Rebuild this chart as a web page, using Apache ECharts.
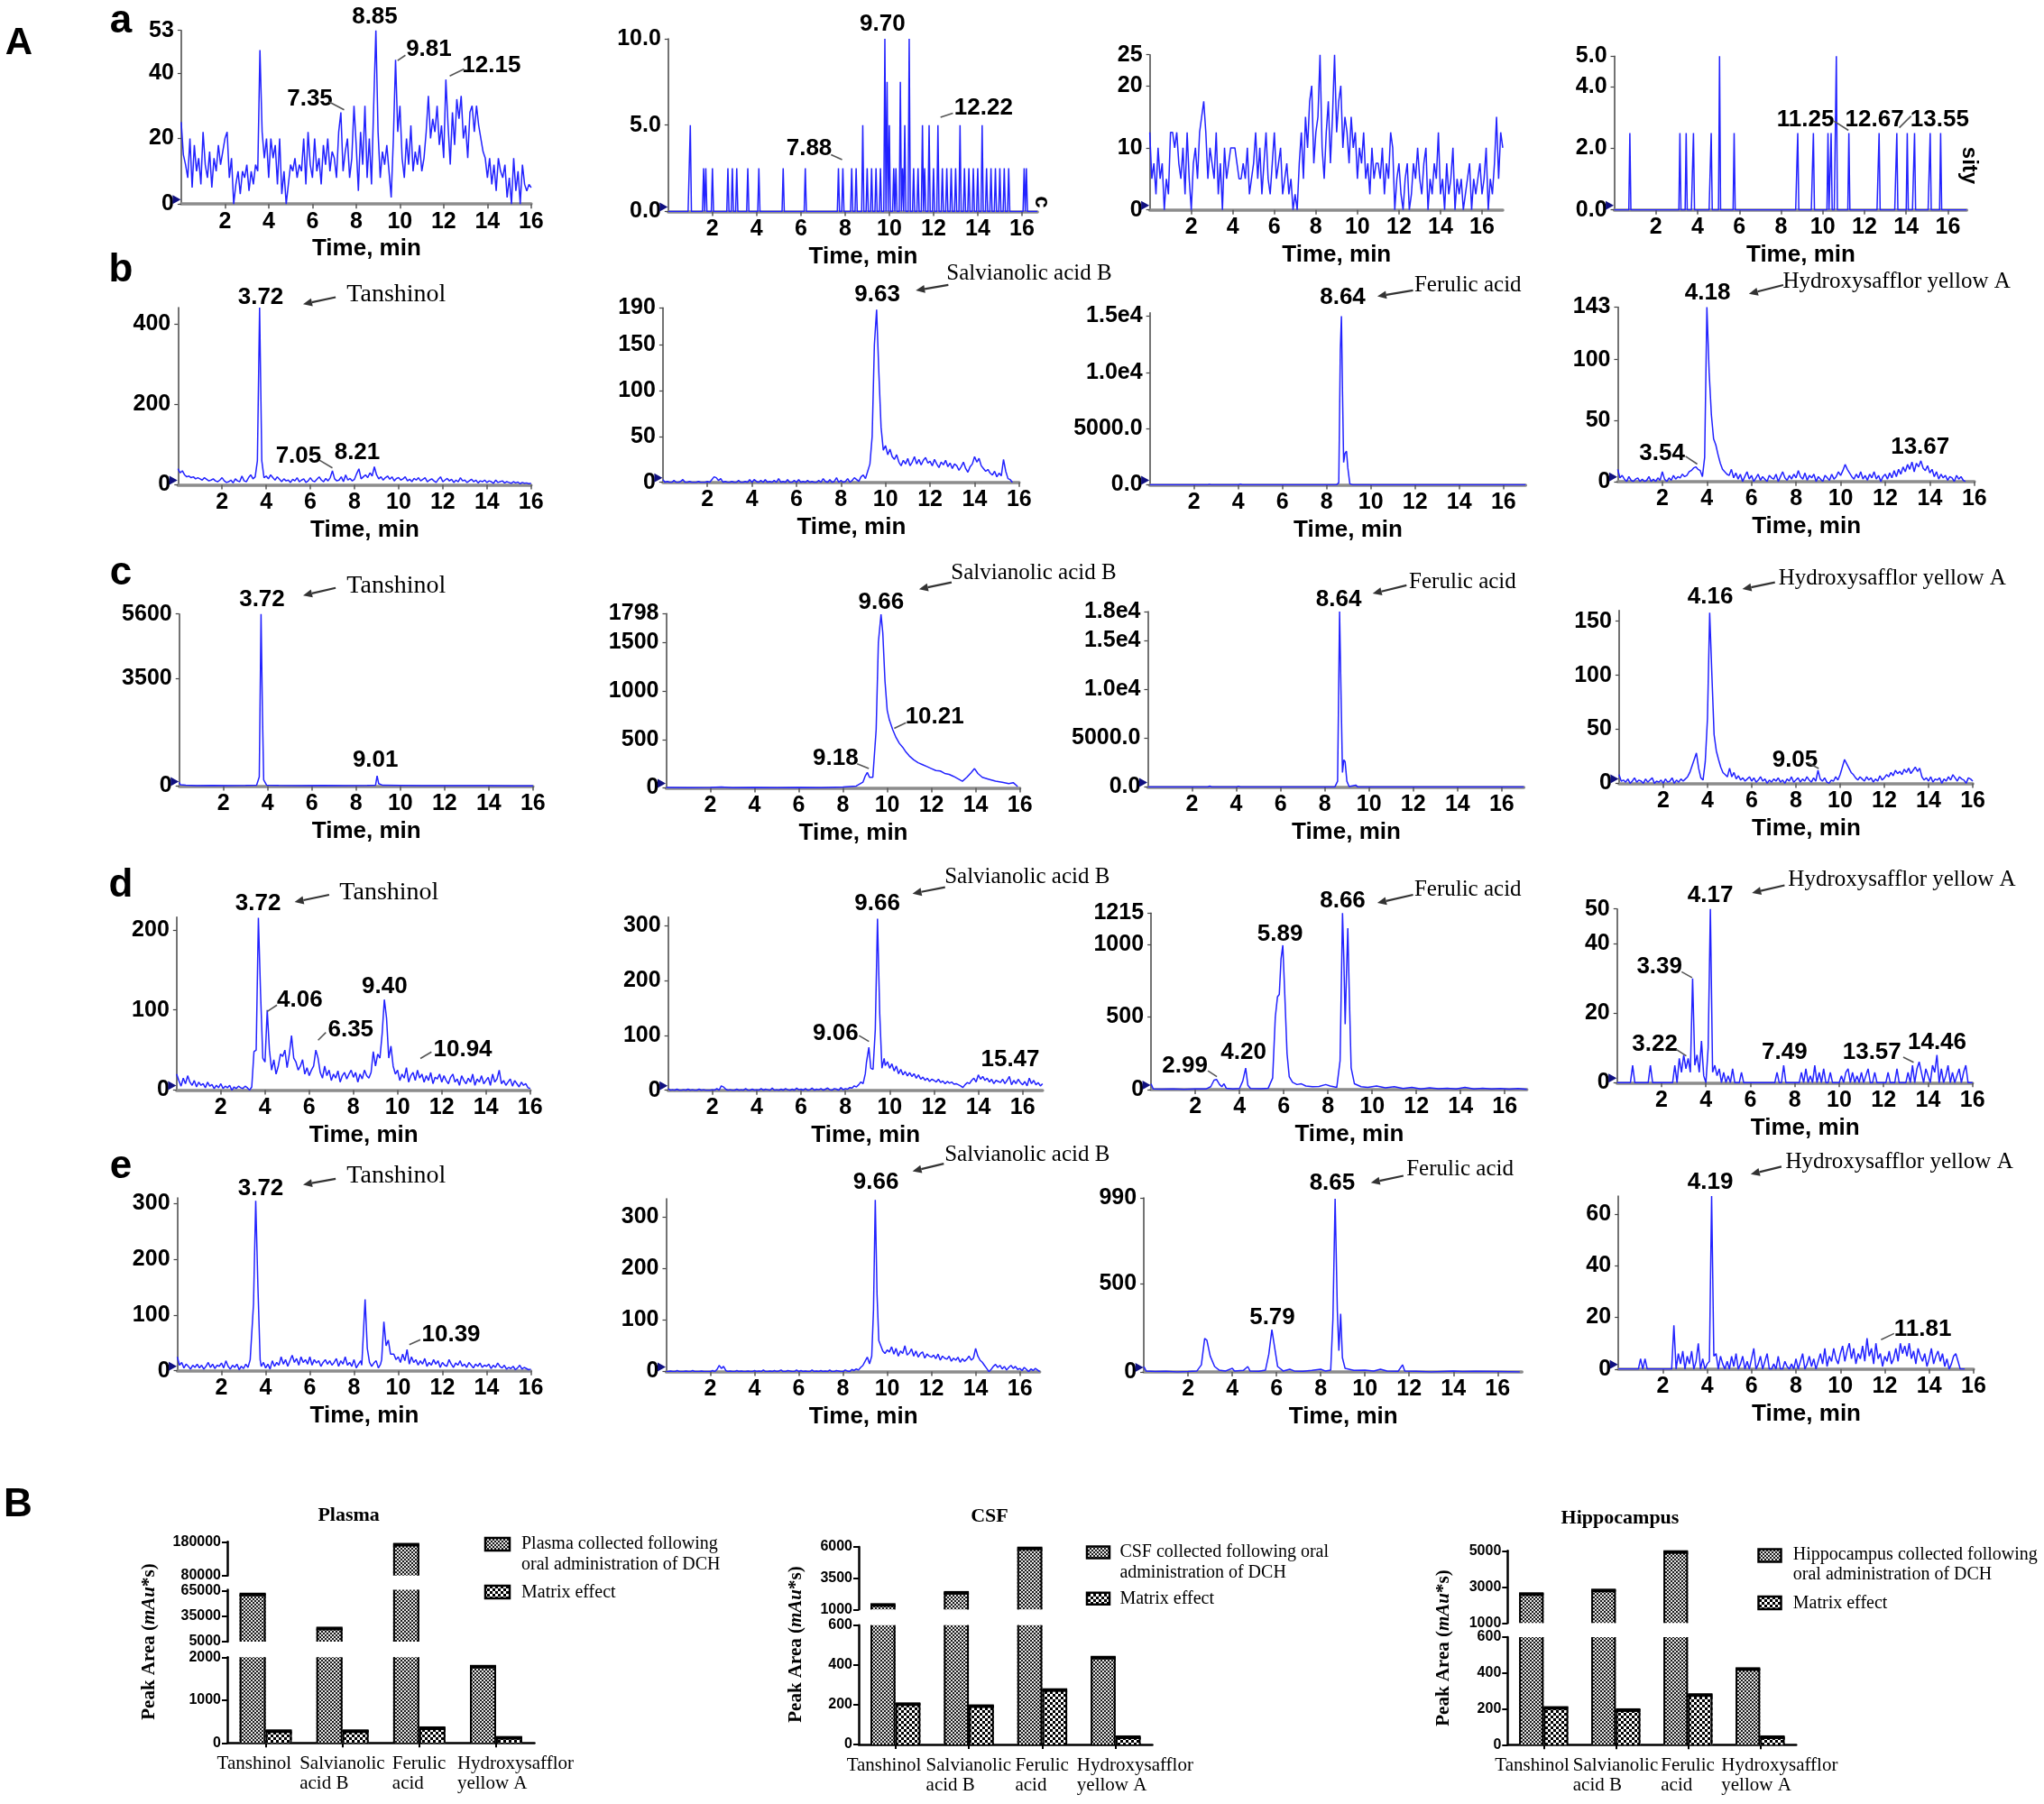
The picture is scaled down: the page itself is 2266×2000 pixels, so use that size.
<!DOCTYPE html>
<html>
<head>
<meta charset="utf-8">
<script src="https://cdn.jsdelivr.net/npm/echarts@6/dist/echarts.min.js"></script>
<style>html,body{margin:0;padding:0;background:#fff}#chart{width:2266px;height:2000px}</style>
</head>
<body>
<div id="chart"></div>
<script>
// ===================== DATA =====================
const timeTicks = [2, 4, 6, 8, 10, 12, 14, 16];

// Row a (blank) -- regular sampling
const trace_a1 = [ // step 0.1 min
 25,15,12,8,20,5,18,10,14,6, 22,12,8,16,5,14,10,18,12,16, 20,22,8,14,0,6,10,3,10,8,
 12,4,10,6,12,10,47,22,14,20, 8,20,14,18,6,20,3,10,0,6, 12,10,14,8,12,10,20,6,22,12,
 8,20,10,14,6,18,12,20,10,16, 14,8,22,28,10,16,20,8,14,30, 18,4,22,12,30,8,20,6,30,53,
 22,8,16,12,18,10,2,20,44,22, 30,14,8,20,12,24,10,16,12,18, 10,14,22,33,20,26,22,30,18,24,
 14,38,24,12,28,18,32,26,33,20, 24,14,28,30,22,30,24,20,16,14, 8,14,6,12,4,14,10,8,12,2,
 8,0,14,4,10,0,12,6,4,6, 5];
const trace_a2 = [ // step 0.05 min
 0,0,0,0,0,0,0,0,0,0,0,0,0,0,0,0,0,0,0,0,
 5,0,0,0,0,0,0,0,0,0,0,0,2.5,0,2.5,0,0,0,0,0,
 2.5,0,0,0,0,0,0,0,0,0,0,0,0,0,2.5,0,0,0,2.5,0,
 0,0,2.5,0,0,0,0,0,0,0,0,0,2.5,0,0,0,0,0,0,0,
 0,0,2.5,0,0,0,0,0,0,0,0,0,0,0,0,0,0,0,0,0,
 0,0,0,0,2.5,0,0,0,0,0,0,0,0,0,0,0,0,0,0,0,
 0,0,0,0,2.5,0,0,0,0,0,0,0,0,0,0,0,0,0,0,0,
 0,0,0,0,0,0,0,0,0,0,0,0,0,0,2.5,0,0,0,2.5,0,
 0,0,0,0,0,0,2.5,0,0,0,2.5,0,0,0,0,0,5,0,0,0,
 2.5,0,0,0,2.5,0,0,0,2.5,0,0,0,2.5,0,0,0,10,0,7.5,0,
 5,0,0,0,2.5,0,2.5,0,0,0,7.5,0,2.5,0,5,0,0,0,10,0,
 0,0,2.5,0,0,0,2.5,0,0,0,5,0,2.5,0,0,0,5,0,0,0,
 2.5,0,0,0,5,0,0,0,2.5,0,0,0,2.5,0,0,0,2.5,0,0,0,
 2.5,0,0,0,5,0,0,0,2.5,0,0,0,2.5,0,0,0,2.5,0,0,0,
 2.5,0,0,0,5,0,0,0,2.5,0,0,0,2.5,0,0,0,2.5,0,0,0,
 2.5,0,0,0,2.5,0,0,0,2.5,0,0,0,0,0,0,0,0,0,0,0,
 0,0,2.5,0,2.5,0,0,0,0,0,0,0,0,0,0];
const trace_a3 = [ // step 0.1 min
 12.5,5,7.5,2.5,10,5,7.5,0,5,2.5, 12.5,12.5,10,12.5,7.5,5,10,2.5,12.5,5,
 0,7.5,10,5,12.5,15,17.5,12.5,5,10, 7.5,5,12.5,2.5,7.5,0,10,5,7.5,10,
 10,10,7.5,5,5,7.5,5,10,2.5,5, 7.5,12.5,5,10,2.5,7.5,12.5,5,2.5,7.5,
 12.5,5,7.5,10,2.5,5,7.5,2.5,5,0, 2.5,0,7.5,12.5,5,15,10,17.5,20,7.5,
 12.5,15,25,10,5,12.5,17.5,7.5,15,25, 12.5,17.5,20,10,15,12.5,7.5,15,10,12.5,
 5,10,7.5,12.5,5,7.5,2.5,10,5,7.5, 7.5,5,10,2.5,7.5,5,12.5,10,0,5,
 7.5,2.5,0,5,7.5,0,2.5,7.5,5,10, 5,2.5,7.5,10,0,5,2.5,7.5,5,12.5,
 2.5,5,0,7.5,2.5,5,10,0,5,2.5, 5,0,2.5,5,7.5,0,5,2.5,5,7.5,
 2.5,5,10,0,5,2.5,7.5,15,5,12.5,10];
const trace_a4 = [ // step 0.05 min
 0,0,0,0,0,0,0,0,0,0,0,0,0,0,0,2.5,0,0,0,0,
 0,0,0,0,0,0,0,0,0,0,0,0,0,0,0,0,0,0,0,0,
 0,0,0,0,0,0,0,0,0,0,0,0,0,0,0,0,0,0,0,0,
 0,0,0,2.5,0,0,0,0,0,2.5,0,0,0,0,0,0,2.5,0,0,0,
 0,0,0,0,0,0,0,0,0,0,0,0,0,2.5,0,0,0,0,0,0,
 0,5,0,0,0,0,0,0,0,0,0,0,0,0,0,2.5,0,0,0,0,
 0,0,0,0,0,0,0,0,0,0,0,0,0,0,0,0,0,0,0,0,
 0,0,0,0,0,0,0,0,0,0,0,0,0,0,0,0,0,0,0,0,
 0,0,0,0,0,0,0,0,0,0,0,0,0,0,0,0,2.5,0,0,0,
 0,0,0,0,0,0,0,0,0,0,0,2.5,0,0,0,0,0,0,0,0,
 0,0,0,0,0,2.5,0,0,2.5,0,0,0,0,5,0,0,0,0,0,0,
 0,0,0,0,0,2.5,0,0,0,0,0,0,0,0,0,0,0,0,0,0,
 0,0,0,0,0,0,0,0,0,0,0,0,0,0,2.5,0,0,0,0,0,
 0,0,0,0,0,0,0,0,0,0,0,2.5,0,0,0,0,0,0,0,0,
 0,2.5,0,0,0,0,0,0,2.5,0,0,0,0,0,0,0,0,0,0,0,
 0,0,0,2.5,0,0,0,0,0,0,0,0,0,2.5,0,0,0,0,0,0,
 0,0,0,0,0,0,0,0,0,0,0,0,0,0,0,0,0,0,0];

// Row b
const trace_b1 = [ // step 0.1
 40,30,35,25,20,22,18,20,15,18, 15,12,18,14,10,12,15,10,8,12, 18,10,6,8,12,5,15,10,8,22,
 10,8,18,25,15,20,60,440,60,18, 22,15,25,18,12,20,14,8,15,10, 12,6,14,10,18,8,12,15,6,10,
 18,10,8,14,20,12,8,16,10,18, 35,15,10,12,20,8,25,12,16,10, 14,28,40,15,20,25,18,30,22,45,
 25,15,20,12,18,22,14,20,10,16, 18,12,15,20,10,14,8,16,12,18, 10,14,18,8,12,15,10,6,14,20,
 8,12,16,10,14,6,12,8,18,10, 12,6,10,14,8,12,5,10,8,12, 6,10,8,4,12,6,8,10,5,8,
 6,4,8,5,7,3,6,4,5,3, 4];
const trace_b2 = [ // step 0.1
 3,0,1,0,0,2,0,0,1,3, 0,0,1,0,0,0,1,0,0,0, 1,0,3,6,5,2,4,0,1,0, 0,1,0,0,2,0,0,1,0,3,
 0,3,1,0,2,0,3,0,1,0, 2,0,4,0,1,0,3,0,0,2, 0,3,0,1,0,2,0,1,0,0, 2,0,4,1,0,3,0,1,5,0,
 2,0,1,4,0,2,5,3,1,6, 8,4,12,20,50,150,188,120,60,35, 40,30,36,28,25,30,22,18,24,20,
 26,18,22,28,20,25,19,24,27,21, 23,18,25,20,16,22,19,24,17,21, 15,20,18,13,17,22,15,11,17,20,
 28,22,26,18,15,12,14,10,8,12, 6,10,7,25,12,4,3,0];
const trace_b3 = [ // [min, intensity]
 [0,0],[2.6,0],[2.7,60],[2.8,0],[4.0,0],[4.1,80],[4.2,0],[8.45,0],[8.55,200],[8.62,12000],[8.67,15000],
 [8.72,8000],[8.77,2000],[8.83,2800],[8.9,3000],[8.96,1500],[9.05,100],[9.2,0],[17,0]];
const trace_b4 = [ // step 0.1
 10,3,5,2,0,4,1,0,2,3, 0,2,0,1,4,0,2,0,3,1, 8,2,0,3,1,5,2,4,3,6, 4,5,8,9,11,12,10,9,4,20,
 143,90,55,35,30,22,15,10,8,6, 5,10,3,7,2,6,0,4,8,2, 5,0,3,6,1,4,2,0,5,3, 2,6,0,4,8,3,1,5,2,6,
 3,9,4,2,7,1,5,3,6,0, 4,2,0,5,3,1,6,2,4,8, 5,9,14,10,7,4,2,6,3,8, 2,5,1,6,3,8,2,5,0,4,
 6,2,7,3,9,4,10,6,12,8, 14,10,16,8,15,12,17,11,9,13, 7,10,4,8,2,6,3,5,1,4, 3,0,5,2,4,1,0];

// Row c
const trace_c1 = [
 [0,120],[0.05,40],[0.3,25],[0.8,15],[1.5,20],[2.2,12],[3.0,18],[3.5,25],[3.62,300],[3.7,5600],[3.76,2500],
 [3.82,200],[3.95,30],[4.5,20],[5.5,15],[6.5,22],[7.5,14],[8.5,18],[8.88,30],[8.95,330],[9.02,80],[9.2,25],
 [10,18],[11,12],[12,15],[13,10],[14,12],[15,8],[16,5]];
const trace_c2 = [
 [0,5],[1,3],[2,5],[2.5,10],[3,4],[4,6],[5,4],[6,5],[7,4],[8,10],[8.6,20],[8.9,60],[9.0,120],[9.1,160],[9.2,110],
 [9.35,110],[9.5,600],[9.6,1500],[9.72,1790],[9.8,1600],[9.9,1100],[10.0,800],[10.1,700],[10.25,600],[10.4,520],
 [10.55,460],[10.7,420],[10.85,370],[11.0,330],[11.2,290],[11.4,260],[11.6,240],[11.8,220],[12.0,200],[12.2,180],
 [12.4,175],[12.6,150],[12.8,140],[13.0,120],[13.2,95],[13.4,70],[13.6,110],[13.8,160],[13.95,200],[14.1,150],
 [14.3,110],[14.6,90],[14.9,70],[15.2,60],[15.5,45],[15.7,55],[15.9,15]];
const trace_c3 = [
 [0,0],[2.7,0],[2.8,100],[2.9,0],[4.0,0],[4.1,90],[4.2,0],[8.45,0],[8.58,600],[8.67,18000],[8.74,9000],
 [8.8,1500],[8.86,2800],[8.92,2600],[9.0,600],[9.1,50],[9.4,200],[9.5,0],[17,0]];
const trace_c4 = [ // step 0.1
 8,2,3,1,4,0,2,5,1,3, 2,0,4,1,3,5,0,2,1,3, 0,4,1,2,5,0,3,1,4,2, 4,6,10,16,22,28,14,5,3,20,
 60,158,100,45,30,22,15,10,8,6, 14,6,10,4,7,3,5,2,4,6, 2,5,1,3,6,2,4,0,3,1, 4,2,5,1,3,0,4,2,6,1,
 3,5,1,4,2,6,3,1,5,2, 12,4,2,5,1,0,3,2,6,3, 8,15,22,18,14,10,8,5,3,6, 4,2,6,3,5,1,4,2,7,3,
 5,8,6,10,7,12,9,11,8,13, 10,14,9,12,15,11,14,6,3,5, 2,6,1,4,3,5,0,4,2,6, 3,8,5,2,6,4,3,0,5,4, 2];

// Row d
const trace_d1 = [ // step 0.1
 20,12,5,15,8,18,10,6,12,4, 10,6,8,3,10,5,7,2,6,3, 8,2,5,3,6,0,4,2,5,3, 2,5,3,0,4,48,50,215,120,40,
 35,100,50,25,38,20,30,45,42,50, 28,45,68,40,35,25,30,38,20,28, 18,25,30,50,40,22,15,30,18,25,
 12,20,15,24,10,18,22,14,20,25, 16,22,10,20,14,25,18,15,22,48, 30,45,40,70,113,90,40,55,30,20,
 25,12,20,15,28,10,18,22,12,25, 15,20,10,18,12,22,8,16,14,20, 10,18,12,8,16,20,10,14,6,18,
 12,8,15,10,20,6,14,10,18,8, 12,16,6,20,10,14,25,8,12,6, 10,14,5,12,8,4,10,6,8,3, 2];
const trace_d2 = [ // step 0.1, null = replaced by peak points
 3,0,1,0,2,0,0,1,0,2, 0,1,0,0,2,0,1,0,0,0, 1,0,3,0,8,6,2,0,1,0, 0,2,0,1,0,3,0,0,2,0,
 1,0,3,0,2,1,0,4,0,1, 0,2,0,3,1,0,2,0,4,1, 2,0,3,0,1,4,0,2,1,3, 0,2,4,1,0,3,2,0,5,1,
 3,2,5,4,8,6,10,15,12,30, null,null,null,null,null,null,null,null,45,52, 40,48,35,44,30,38,28,34,26,32,
 25,30,22,28,20,24,18,22,16,20, 18,15,20,14,17,12,16,13,15,11, 12,10,8,5,10,14,12,18,22,15,
 28,20,25,18,22,15,20,12,18,16, 14,20,12,18,25,10,18,12,20,14, 10,16,8,22,12,18,10,14,8,12];
const peaks_d2 = [[8.95,50],[9.06,78],[9.15,40],[9.25,38],[9.35,110],[9.45,312],[9.55,140],[9.65,40],[9.75,58]];
const trace_d3 = [
 [0,40],[0.1,5],[0.5,3],[1,5],[1.5,2],[2,4],[2.5,5],[2.7,20],[2.85,65],[2.96,70],[3.1,35],[3.2,20],[3.3,40],
 [3.4,10],[3.7,5],[4.0,8],[4.15,60],[4.28,148],[4.38,30],[4.5,8],[5.0,6],[5.3,10],[5.5,80],[5.62,500],[5.72,640],
 [5.8,655],[5.88,900],[5.96,994],[6.05,650],[6.15,250],[6.25,90],[6.4,50],[6.6,35],[6.8,40],[7.0,25],[7.3,20],
 [7.6,22],[7.9,35],[8.1,25],[8.4,15],[8.55,200],[8.66,1215],[8.72,900],[8.78,450],[8.84,800],[8.9,1111],[8.96,700],
 [9.05,150],[9.2,40],[9.5,20],[9.8,15],[10.2,25],[10.6,12],[11,20],[11.4,8],[11.8,15],[12.2,5],[12.6,12],[13,6],
 [13.4,10],[13.8,4],[14.2,15],[14.6,5],[15,10],[15.4,4],[15.8,8],[16.2,3],[16.6,8],[17,2]];
const trace_d4 = [ // step 0.1
 0,0,0,0,0,0,0,5,0,0, 0,0,0,0,0,5,0,0,0,0, 0,0,0,0,0,0,5,0,7,3, 8,4,7,3,30,5,8,3,12,2,
 0,10,50,3,5,2,4,0,3,0, 2,0,4,0,0,0,3,0,0,0, 0,0,0,0,0,0,0,0,0,0, 0,0,3,0,0,5,0,0,0,0,
 0,0,0,3,0,4,0,2,0,5, 0,3,0,4,0,0,3,0,0,0, 0,2,0,3,4,0,3,0,2,0, 3,0,2,4,0,0,3,0,0,0,
 0,0,3,0,0,0,4,0,0,0, 0,3,0,5,0,4,6,3,0,4, 2,0,5,3,8,0,4,0,2,5, 0,3,0,2,4,0,3,5,0,0, 0];

// Row e
const trace_e1 = [ // step 0.1, null = replaced by peak points
 25,10,15,5,12,8,3,10,6,12, 5,10,3,8,15,6,12,4,10,8, 14,5,18,8,3,10,6,12,2,8,
 4,12,6,null,null,null,null,null,8,15, 5,12,3,18,8,15,10,25,12,20, 8,18,28,15,22,10,25,15,20,12,
 25,10,20,14,18,8,15,20,12,18, 10,15,22,8,18,12,25,10,15,8, 20,5,12,18,null,null,null,null,8,14,
 18,5,12,null,null,null,null,null,30,20, 25,15,30,18,38,12,25,15,20,10, 18,12,22,8,15,10,20,12,18,6,
 15,10,8,20,12,6,14,10,18,8, 12,6,15,10,5,12,8,14,6,10, 8,12,4,10,6,14,8,5,10,3,
 6,4,8,2,5,10,3,6,4,2, 3];
const peaks_e1 = [[3.3,20],[3.45,120],[3.55,305],[3.65,150],[3.75,20],[8.35,10],[8.5,128],[8.6,40],[8.7,15],
 [9.25,20],[9.35,88],[9.45,45],[9.55,55],[9.65,30]];
const trace_e2 = [ // step 0.1, null = replaced by peak points
 0,0,1,0,0,2,0,0,0,1, 0,0,2,0,0,0,1,0,0,0, 0,2,0,4,12,6,10,2,0,1, 0,0,2,0,1,0,0,1,0,0,
 2,0,1,0,3,0,0,1,0,2, 0,1,3,0,0,2,1,0,0,3, 0,2,0,1,0,0,3,0,1,0, 2,0,1,0,3,0,0,2,1,0,
 0,3,1,0,4,2,5,3,8,12, 20,28,15,null,null,null,null,null,40,35, 42,38,48,34,45,30,40,35,50,32,
 36,44,30,40,28,35,38,26,34,30, 28,32,25,34,22,30,26,24,30,20, 26,22,28,18,25,20,24,30,22,26,
 45,30,22,18,12,6,0,4,10,14, 8,12,5,10,3,8,12,6,10,4, 6,2,8,4,0,5,2,6,3,0];
const peaks_e2 = [[9.3,30],[9.38,120],[9.46,333],[9.54,150],[9.62,60]];
const trace_e3 = [
 [0,30],[0.1,5],[0.5,2],[1,3],[1.5,0],[2,2],[2.4,5],[2.6,40],[2.75,190],[2.85,180],[3.0,90],[3.2,30],[3.4,10],
 [3.7,5],[4.0,20],[4.1,5],[4.5,8],[4.7,30],[4.8,5],[5.2,3],[5.5,10],[5.65,100],[5.79,240],[5.9,150],[6.05,30],
 [6.3,5],[6.6,15],[6.8,5],[7.2,3],[7.6,8],[8.0,15],[8.2,5],[8.45,10],[8.55,300],[8.65,985],[8.75,350],[8.82,120],
 [8.9,330],[8.98,80],[9.1,20],[9.5,8],[10,10],[10.4,5],[10.7,15],[11,5],[11.5,3],[11.7,40],[11.8,5],[12.3,3],
 [13,0],[14,5],[14.4,2],[15,3],[16,2],[17,0]];
const trace_e4 = [ // step 0.1
 0,0,0,0,0,0,0,0,0,0, 4,0,4,0,0,0,0,0,0,0, 0,0,0,0,0,17,0,6,2,7, 0,5,2,7,0,3,10,0,4,0,
 2,3,67,5,6,0,5,2,0,3, 0,5,1,6,0,2,5,0,3,0, 4,8,0,2,5,0,3,6,0,0, 2,0,5,0,0,3,1,0,2,0,
 4,0,3,6,0,2,5,1,4,0, 3,6,2,8,1,5,3,8,4,2, 6,9,3,7,10,4,8,2,6,4, 9,3,12,5,8,2,10,4,6,1,
 5,3,7,2,4,8,3,10,6,9, 5,10,4,7,2,8,5,3,6,1, 4,8,2,5,7,3,6,1,4,0, 2,5,6,3,0,0,0];

// y tick values of each chromatogram
const yTicks_a1 = [0,20,40,53], yTicks_a2 = [0,5,10], yTicks_a3 = [0,10,20,25], yTicks_a4 = [0,2,4,5];
const yTicks_b1 = [0,200,400], yTicks_b2 = [0,50,100,150,190], yTicks_b3 = [0,5000,10000,15000], yTicks_b4 = [0,50,100,143];
const yTicks_c1 = [0,3500,5600], yTicks_c2 = [0,500,1000,1500,1798], yTicks_c3 = [0,5000,10000,15000,18000], yTicks_c4 = [0,50,100,150];
const yTicks_d1 = [0,100,200], yTicks_d2 = [0,100,200,300], yTicks_d3 = [0,500,1000,1215], yTicks_d4 = [0,20,40,50];
const yTicks_e1 = [0,100,200,300], yTicks_e2 = [0,100,200,300], yTicks_e3 = [0,500,990], yTicks_e4 = [0,20,40,60];

// Part B bar data
const barCategories = ['Tanshinol', 'Salvianolic acid B', 'Ferulic acid', 'Hydroxysafflor yellow A'];
const barCategoryLines = [['Tanshinol'], ['Salvianolic', 'acid B'], ['Ferulic', 'acid'], ['Hydroxysafflor', 'yellow A']];
const plasmaDCH = [61500, 21500, 174000, 1800];
const plasmaMatrix = [295, 295, 365, 140];
const csfDCH = [1430, 2400, 5950, 441];
const csfMatrix = [207, 197, 278, 41];
const hippoDCH = [2650, 2850, 4980, 427];
const hippoMatrix = [210, 198, 282, 47];
const plasmaBreaks = [[0, 2000], [5000, 66000], [80000, 180000]];
const plasmaTicks = [[0, 1000, 2000], [5000, 35000, 65000], [80000, 180000]];
const csfBreaks = [[0, 600], [1000, 6000]];
const csfTicks = [[0, 200, 400, 600], [1000, 3500, 6000]];
const hippoBreaks = [[0, 600], [1000, 5000]];
const hippoTicks = [[0, 200, 400, 600], [1000, 3000, 5000]];

// ===================== LAYOUT / STYLE =====================
const S = 2266 / 1568; // chromatogram layout measured at 1568-px scale
const SANS = '"Liberation Sans", Arial, Helvetica, sans-serif';
const SERIF = '"Liberation Serif", "Times New Roman", Times, serif';

function fromSteps(step, vals, extra) {
  const pts = [];
  vals.forEach((v, i) => { if (v !== null) pts.push([Math.round(i * step * 1000) / 1000, v]); });
  if (extra) extra.forEach(p => pts.push([p[0], p[1]]));
  pts.sort((a, b) => a[0] - b[0]);
  return pts;
}
function fmtY(v, f) {
  if (f === 'd1') return v.toFixed(1);
  if (f === 'e') return v === 0 ? '0.0' : (v < 10000 ? v.toFixed(1) : (v / 10000).toFixed(1) + 'e4');
  return String(v);
}

// L: y-axis x, Z: zero line y, T: axis top y (1568-scale), xmax, ppm: px per min
const chrom = [
 {L:139,   Z:156.5, T:23.3,  xmax:16,   ppm:16.78, ymax:53,    yt:yTicks_a1, f:'i',  d:fromSteps(0.1, trace_a1)},
 {L:512.6, Z:162.3, T:29.7,  xmax:16.7, ppm:16.96, ymax:10,    yt:yTicks_a2, f:'d1', d:fromSteps(0.05, trace_a2)},
 {L:882,   Z:161,   T:42,    xmax:17,   ppm:15.93, ymax:25,    yt:yTicks_a3, f:'i',  d:fromSteps(0.1, trace_a3)},
 {L:1238.3,Z:161,   T:43,    xmax:16.9, ppm:16.0,  ymax:5,     yt:yTicks_a4, f:'d1', d:fromSteps(0.05, trace_a4)},
 {L:136.5, Z:372,   T:236,   xmax:16,   ppm:16.93, ymax:440,   yt:yTicks_b1, f:'i',  d:fromSteps(0.1, trace_b1)},
 {L:508.5, Z:370,   T:236.2, xmax:16,   ppm:17.08, ymax:190,   yt:yTicks_b2, f:'i',  d:fromSteps(0.1, trace_b2)},
 {L:882,   Z:372,   T:240,   xmax:17,   ppm:16.96, ymax:15300, yt:yTicks_b3, f:'e',  d:trace_b3},
 {L:1241,  Z:369.4, T:235.6, xmax:16,   ppm:17.1,  ymax:143,   yt:yTicks_b4, f:'i',  d:fromSteps(0.1, trace_b4)},
 {L:137.5, Z:603,   T:471,   xmax:16,   ppm:16.96, ymax:5600,  yt:yTicks_c1, f:'i',  d:trace_c1},
 {L:511,   Z:604.5, T:470.7, xmax:16,   ppm:16.96, ymax:1798,  yt:yTicks_c2, f:'i',  d:trace_c2},
 {L:880.5, Z:603.8, T:469.2, xmax:17,   ppm:16.97, ymax:18000, yt:yTicks_c3, f:'e',  d:trace_c3},
 {L:1242,  Z:600.9, T:468.3, xmax:16,   ppm:16.96, ymax:160,   yt:yTicks_c4, f:'i',  d:fromSteps(0.1, trace_c4)},
 {L:135.5, Z:836.3, T:703.5, xmax:16,   ppm:16.95, ymax:216,   yt:yTicks_d1, f:'i',  d:fromSteps(0.1, trace_d1)},
 {L:512.5, Z:836.4, T:703.5, xmax:16.9, ppm:17.0,  ymax:315,   yt:yTicks_d2, f:'i',  d:fromSteps(0.1, trace_d2, peaks_d2)},
 {L:883,   Z:835.9, T:700.5, xmax:17,   ppm:16.96, ymax:1215,  yt:yTicks_d3, f:'i',  d:trace_d3},
 {L:1240.5,Z:830.6, T:697.3, xmax:16,   ppm:17.04, ymax:50,    yt:yTicks_d4, f:'i',  d:fromSteps(0.1, trace_d4)},
 {L:136,   Z:1051.6,T:919,   xmax:16,   ppm:16.95, ymax:310,   yt:yTicks_e1, f:'i',  d:fromSteps(0.1, trace_e1, peaks_e1)},
 {L:511,   Z:1052.2,T:919.7, xmax:16.9, ppm:16.96, ymax:335,   yt:yTicks_e2, f:'i',  d:fromSteps(0.1, trace_e2, peaks_e2)},
 {L:877.5, Z:1052.4,T:919,   xmax:17.1, ppm:16.96, ymax:990,   yt:yTicks_e3, f:'i',  d:trace_e3},
 {L:1241.5,Z:1050.3,T:917.6, xmax:16,   ppm:17.03, ymax:67,    yt:yTicks_e4, f:'i',  d:fromSteps(0.1, trace_e4)}
];

const option = {animation:false, backgroundColor:'#fff', grid:[], xAxis:[], yAxis:[], series:[], graphic:{elements:[]}};
const G = option.graphic.elements;

chrom.forEach((p, i) => {
  option.grid.push({left:p.L*S, top:p.T*S, width:p.xmax*p.ppm*S, height:(p.Z-p.T)*S, containLabel:false});
  const xt = timeTicks.filter(v => v <= p.xmax + 1e-9);
  option.xAxis.push({type:'value', gridIndex:i, min:0, max:p.xmax,
    axisLine:{show:true, lineStyle:{color:'#8c8c8c', width:3.5}},
    axisTick:{show:true, customValues:xt, length:5, lineStyle:{color:'#555', width:1.5}},
    axisLabel:{customValues:xt, margin:7, color:'#000', fontFamily:SANS, fontWeight:'bold', fontSize:25},
    splitLine:{show:false},
    name:'Time, min', nameLocation:'middle', nameGap:37,
    nameTextStyle:{color:'#000', fontFamily:SANS, fontWeight:'bold', fontSize:26, padding:[0,0,0,23]}});
  option.yAxis.push({type:'value', gridIndex:i, min:0, max:p.ymax,
    axisLine:{show:true, lineStyle:{color:'#444', width:1.5}},
    axisTick:{show:true, customValues:p.yt, length:4, lineStyle:{color:'#444', width:1.2}},
    axisLabel:{customValues:p.yt, formatter:v => fmtY(v, p.f), margin:8, color:'#000', fontFamily:SANS, fontWeight:'bold', fontSize:25},
    splitLine:{show:false}});
  option.series.push({type:'line', xAxisIndex:i, yAxisIndex:i, data:p.d, symbol:'none', showSymbol:false,
    lineStyle:{color:'#2222ff', width:1.5}, clip:true, z:3, silent:true,
    markPoint:{symbol:'triangle', symbolSize:[10,9], symbolRotate:-90, symbolOffset:[-5,-5], silent:true,
      itemStyle:{color:'#101080'}, label:{show:false}, data:[{coord:[0,0]}]}});
});

// ---------- annotations (1568-scale) ----------
const peakTexts = [
 [287.5,13,'8.85'],[329,37.7,'9.81'],[377,50.5,'12.15'],[237.7,76,'7.35'],
 [677,18.5,'9.70'],[620.7,114.3,'7.88'],[754.5,83,'12.22'],
 [1385,92,'11.25'],[1438,92,'12.67'],[1488,92,'13.55'],
 [200,228,'3.72'],[229,350,'7.05'],[274,347.5,'8.21'],
 [673,226,'9.63'],[1030,228,'8.64'],
 [1310,225,'4.18'],[1275,348,'3.54'],[1473,343,'13.67'],
 [201,460,'3.72'],[288,583,'9.01'],
 [676,462,'9.66'],[717,550,'10.21'],[641,582,'9.18'],
 [1027,460,'8.64'],[1312,458,'4.16'],[1377,583,'9.05'],
 [198,693,'3.72'],[230,767,'4.06'],[269,790,'6.35'],[295,757,'9.40'],[355,805,'10.94'],
 [673,693,'9.66'],[641,793,'9.06'],[775,813,'15.47'],
 [1030,691,'8.66'],[982,717,'5.89'],[954,807.6,'4.20'],[909,817.5,'2.99'],
 [1312,687,'4.17'],[1273,741.5,'3.39'],[1269.5,801,'3.22'],[1369,807.6,'7.49'],[1436,807.6,'13.57'],[1486,800,'14.46'],
 [200,912,'3.72'],[346,1024,'10.39'],
 [672,907,'9.66'],[1022,908,'8.65'],[976,1011,'5.79'],
 [1312,907,'4.19'],[1475,1020,'11.81']
];
// [x, y, text, fontSize(orig px)]
const compoundTexts = [
 [304,226,'Tanshinol',28],[789.5,210,'Salvianolic acid B',25],[1126,218.7,'Ferulic acid',25],[1455,216,'Hydroxysafflor yellow A',25],
 [304,449.6,'Tanshinol',28],[793,439.6,'Salvianolic acid B',25],[1122,446.8,'Ferulic acid',25],[1451.6,444,'Hydroxysafflor yellow A',25],
 [298.5,685,'Tanshinol',28],[788,672.9,'Salvianolic acid B',25],[1126,682.6,'Ferulic acid',25],[1459,674.9,'Hydroxysafflor yellow A',25],
 [304,902,'Tanshinol',28],[788,885.8,'Salvianolic acid B',25],[1120,897.4,'Ferulic acid',25],[1457,891.6,'Hydroxysafflor yellow A',25]
];
const arrowSegs = [
 [257.5,228,232.5,233.3],[727.5,218.6,702.5,222.9],[1084,222.7,1056.6,227.3],[1368,218.7,1341.6,225.4],
 [257.5,451,232.5,456.8],[730,446.8,705,452],[1079,449,1053,455.4],[1361.6,446.8,1336.6,451.9],
 [252.5,686.4,226,692],[725,680.6,700,685.5],[1084,686.4,1056.6,692.7],[1369,679.2,1344,685],
 [257.5,904.3,232.5,908.9],[724,892.7,700,898.5],[1076.6,902,1051.6,907.3],[1366.6,895,1343,900.8]
];
const leaderSegs = [
 [311,42.4,305,46.4],[356,53,345,58.3],[252.5,78.2,264,84.3],
 [637.5,118.7,646,122.5],[731,86.8,721.5,89.9],
 [1407,93,1418,100],[1466,89,1457,98],
 [245,353,255,359],[1293,350,1302,356],
 [695,554.4,686,558.7],[657.5,586,666.5,589.6],[1386.6,585,1395.2,589.6],
 [212.5,771,205,776],[250,792,244,798],[331,807,322.5,812],
 [659,794.5,666.6,799],[926.6,821.5,933.5,826],
 [1290,745.5,1298,750],[1285.8,805,1293.6,810],[1460,811,1468,815],
 [322.5,1027.7,314,1031.6],[1453,1023,1443,1027.7]
];

function textEl(x, y, text, fontFamily, fontSize, fontWeight, extra) {
  return Object.assign({type:'text', x:x, y:y, z:20, silent:true,
    style:{text:text, fontFamily:fontFamily, fontSize:fontSize, fontWeight:fontWeight, fill:'#000',
      align:'center', verticalAlign:'middle', textAlign:'center', textVerticalAlign:'middle'}}, extra || {});
}
peakTexts.forEach(a => G.push(textEl(a[0]*S, a[1]*S, a[2], SANS, 26, 'bold')));
compoundTexts.forEach(a => G.push(textEl(a[0]*S, a[1]*S, a[2], SERIF, a[3], 'normal')));
leaderSegs.forEach(a => G.push({type:'line', z:20, silent:true, shape:{x1:a[0]*S, y1:a[1]*S, x2:a[2]*S, y2:a[3]*S},
  style:{stroke:'#555', lineWidth:1.6}}));
arrowSegs.forEach(a => {
  const x1 = a[0]*S, y1 = a[1]*S, x2 = a[2]*S, y2 = a[3]*S;
  const dx = x2 - x1, dy = y2 - y1, len = Math.sqrt(dx*dx + dy*dy), ux = dx/len, uy = dy/len;
  const hl = 10, hw = 4.5;
  const bx = x2 - ux*hl, by = y2 - uy*hl;
  G.push({type:'line', z:20, silent:true, shape:{x1:x1, y1:y1, x2:bx, y2:by}, style:{stroke:'#333', lineWidth:2.2}});
  G.push({type:'polygon', z:20, silent:true, shape:{points:[[x2,y2],[bx - uy*hw, by + ux*hw],[bx + uy*hw, by - ux*hw]]},
    style:{fill:'#333'}});
});
// panel letters and clipped axis-title fragments
G.push(textEl(21, 48, 'A', SANS, 42, 'bold'));
G.push(textEl(20, 1669, 'B', SANS, 44, 'bold'));
[['a',24],['b',300],['c',636],['d',982],['e',1294]].forEach(r => G.push(textEl(134, r[1], r[0], SANS, 44, 'bold')));
G.push(textEl(799*S, 155*S, 'c', SANS, 24, 'bold', {rotation:-Math.PI/2}));
G.push(textEl(1510*S, 127*S, 'sity', SANS, 24, 'bold', {rotation:-Math.PI/2}));

// ---------- Part B: broken-axis bar charts (orig px) ----------
function makePattern(kind) {
  const c = document.createElement('canvas');
  const g = c.getContext('2d');
  if (kind === 'fine') {
    c.width = 4; c.height = 4;
    g.fillStyle = '#e6e6e6'; g.fillRect(0, 0, 4, 4);
    g.fillStyle = '#1a1a1a'; g.fillRect(0, 0, 2, 2); g.fillRect(2, 2, 2, 2);
  } else {
    c.width = 6; c.height = 6;
    g.fillStyle = '#000'; g.fillRect(0, 0, 6, 6);
    g.fillStyle = '#fff'; g.fillRect(0, 0, 3, 3); g.fillRect(3, 3, 3, 3);
  }
  return {image: c, repeat: 'repeat'};
}
const patDCH = makePattern('fine');
const patMat = makePattern('checker');

const barPanels = [
 {dch:plasmaDCH, mat:plasmaMatrix, breaks:plasmaBreaks, ticks:plasmaTicks, title:'Plasma',
  legend1:['Plasma collected following', 'oral administration of DCH'],
  axisX:252, axisW:340.5, segY:[[1932.3,1837.3],[1820,1762.5],[1746.7,1709.3]], titleXY:[386.6,1680], yNameXY:[166,1820],
  lg:{ix:538, iw:27, ih:14, y1:1705, y2:1758, tx:578, t1:1711.7, t2:1735, t3:1765.7}},
 {dch:csfDCH, mat:csfMatrix, breaks:csfBreaks, ticks:csfTicks, title:'CSF',
  legend1:['CSF collected following oral', 'administration of DCH'],
  axisX:952, axisW:325.5, segY:[[1934,1801.7],[1784.3,1715]], titleXY:[1097,1681.7], yNameXY:[883,1823],
  lg:{ix:1205, iw:25, ih:13, y1:1714.5, y2:1765.7, tx:1241.4, t1:1720.7, t2:1744, t3:1772.3}},
 {dch:hippoDCH, mat:hippoMatrix, breaks:hippoBreaks, ticks:hippoTicks, title:'Hippocampus',
  legend1:['Hippocampus collected following', 'oral administration of DCH'],
  axisX:1671.3, axisW:320, segY:[[1934.3,1815],[1799.3,1719.3]], titleXY:[1796,1683], yNameXY:[1601,1827],
  lg:{ix:1949.5, iw:25, ih:14, y1:1717.5, y2:1770, tx:1987.8, t1:1723.3, t2:1746, t3:1777.7}}
];

const catRich = {
  r0:{width:84, align:'left', padding:[0,24,0,0], fontFamily:SERIF, fontSize:21, color:'#000', lineHeight:22},
  r1:{width:95, align:'left', fontFamily:SERIF, fontSize:21, color:'#000', lineHeight:22},
  r2:{width:60, align:'left', fontFamily:SERIF, fontSize:21, color:'#000', lineHeight:22},
  r3:{width:130, align:'left', padding:[0,0,0,44], fontFamily:SERIF, fontSize:21, color:'#000', lineHeight:22}
};

barPanels.forEach(bp => {
  bp.breaks.forEach((rng, si) => {
    const gi = option.grid.length;
    const lo = rng[0], hi = rng[1];
    const yb = bp.segY[si][0], yt = bp.segY[si][1];
    option.grid.push({left:bp.axisX, top:yt, width:bp.axisW, height:yb - yt, containLabel:false});
    option.xAxis.push({type:'category', gridIndex:gi, data:barCategories, show: si === 0, boundaryGap:true,
      axisLine:{show:true, lineStyle:{color:'#000', width:2.5}},
      axisTick:{show:true, alignWithLabel:true, length:5, lineStyle:{color:'#000', width:2}},
      axisLabel:{interval:0, margin:12, verticalAlign:'top', rich:catRich,
        formatter:(val, idx) => barCategoryLines[idx].map(s => '{r' + idx + '|' + s + '}').join('\n')},
      splitLine:{show:false}});
    option.yAxis.push({type:'value', gridIndex:gi, min:lo, max:hi,
      axisLine:{show:true, lineStyle:{color:'#000', width:2.5}},
      axisTick:{show:true, customValues:bp.ticks[si], length:6, lineStyle:{color:'#000', width:2}},
      axisLabel:{customValues:bp.ticks[si], formatter:v => String(v), margin:7, color:'#000',
        fontFamily:SANS, fontWeight:'bold', fontSize:16},
      splitLine:{show:false}});
    [[bp.dch, patDCH, -1], [bp.mat, patMat, 0]].forEach(sd => {
      const pattern = sd[1], side = sd[2];
      option.series.push({type:'custom', coordinateSystem:'cartesian2d', xAxisIndex:gi, yAxisIndex:gi, silent:true, z:2,
        data:sd[0].map((v, k) => [k, v]), encode:{x:0, y:1},
        renderItem:(params, api) => {
          const ci = api.value(0), v = api.value(1);
          if (v <= lo) return null;
          const top = Math.min(v, hi);
          const p0 = api.coord([ci, lo]);
          const p1 = api.coord([ci, top]);
          const bw = api.size([1, 0])[0] * 0.34;
          const x = p0[0] + side * bw;
          const ch = [
            {type:'rect', shape:{x:x, y:p1[1], width:bw, height:p0[1] - p1[1]}, style:{fill:pattern}},
            {type:'line', shape:{x1:x + 1, y1:p1[1], x2:x + 1, y2:p0[1]}, style:{stroke:'#000', lineWidth:2}},
            {type:'line', shape:{x1:x + bw - 1, y1:p1[1], x2:x + bw - 1, y2:p0[1]}, style:{stroke:'#000', lineWidth:2}}
          ];
          if (v <= hi) ch.push({type:'rect', shape:{x:x, y:p1[1] - 1, width:bw, height:4}, style:{fill:'#000'}});
          return {type:'group', children:ch};
        }});
    });
  });
  // title, y-axis name, legend
  G.push(textEl(bp.titleXY[0], bp.titleXY[1], bp.title, SERIF, 22, 'bold'));
  G.push({type:'text', x:bp.yNameXY[0], y:bp.yNameXY[1], rotation:Math.PI/2, z:20, silent:true,
    style:{text:'{b|Peak Area (}{i|mAu}{b|*s)}', align:'center', verticalAlign:'middle', textAlign:'center', textVerticalAlign:'middle',
      rich:{b:{fontFamily:SERIF, fontWeight:'bold', fontSize:21, fill:'#000', color:'#000'},
            i:{fontFamily:SERIF, fontWeight:'bold', fontStyle:'italic', fontSize:21, fill:'#000', color:'#000'}}}});
  const lg = bp.lg;
  G.push({type:'rect', z:20, silent:true, shape:{x:lg.ix, y:lg.y1, width:lg.iw, height:lg.ih}, style:{fill:patDCH, stroke:'#000', lineWidth:2.5}});
  G.push({type:'rect', z:20, silent:true, shape:{x:lg.ix, y:lg.y2, width:lg.iw, height:lg.ih}, style:{fill:patMat, stroke:'#000', lineWidth:2.5}});
  const lt = (y, s) => ({type:'text', x:lg.tx, y:y, z:20, silent:true,
    style:{text:s, fontFamily:SERIF, fontSize:20, fill:'#000', align:'left', verticalAlign:'middle', textAlign:'left', textVerticalAlign:'middle'}});
  G.push(lt(lg.t1, bp.legend1[0]));
  G.push(lt(lg.t2, bp.legend1[1]));
  G.push(lt(lg.t3, 'Matrix effect'));
});

const chart = echarts.init(document.getElementById('chart'), null, {renderer:'canvas'});
chart.setOption(option);
</script>
</body>
</html>
